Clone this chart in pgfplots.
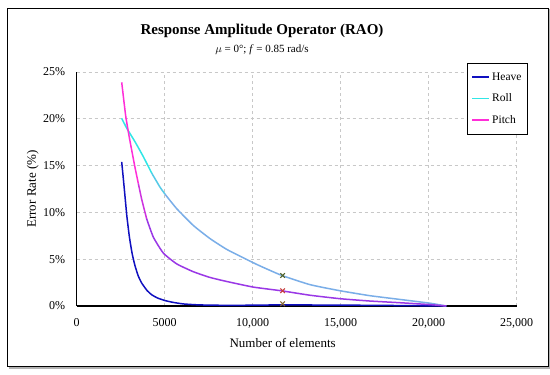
\documentclass[border=0pt]{standalone}
\usepackage{pgfplots}
\pgfplotsset{compat=1.18}
\usepackage{fontspec}
\setmainfont{Liberation Serif}
\definecolor{heave}{HTML}{1010C0}
\definecolor{rollA}{HTML}{30E6E6}
\definecolor{rollB}{HTML}{7AAEE8}
\definecolor{pitchA}{HTML}{FF2ED8}
\definecolor{pitchB}{HTML}{9A38E6}
\definecolor{gridc}{HTML}{C8C8C8}
\begin{document}
\begin{tikzpicture}
\fill[white] (0pt,0pt) rectangle (550pt,375pt);
\fill[gray!60] (9pt,6pt) rectangle (550pt,366pt);
\draw[black, line width=1pt, fill=white] (7pt,8pt) rectangle (548pt,366pt);
\node[font=\bfseries\fontsize{15}{17}\selectfont] at (262pt,344pt) {Response Amplitude Operator (RAO)};
\node[font=\fontsize{11}{13}\selectfont] at (262pt,325pt) {$\mu$ = 0°; \textit{f} = 0.85 rad/s};
\begin{axis}[
  at={(76.7pt,69pt)}, anchor=origin,
  scale only axis, width=440pt, height=234pt,
  xmin=0, xmax=25000, ymin=0, ymax=25,
  axis lines*=left,
  axis line style={line width=1.2pt, -},
  grid=major, grid style={dashed, gridc, line width=0.6pt},
  scaled x ticks=false,
  xtick={0,5000,10000,15000,20000,25000},
  xticklabels={0,5000,{10,000},{15,000},{20,000},{25,000}},
  ytick={0,5,10,15,20,25},
  yticklabels={0\%,5\%,10\%,15\%,20\%,25\%},
  major tick length=0pt,
  tick label style={font=\fontsize{12}{14}\selectfont},
  yticklabel style={inner sep=0pt, xshift=-11.5pt},
  xticklabel style={inner sep=0pt, yshift=-12pt},
  xlabel={Number of elements},
  ylabel={Error Rate (\%)},
  label style={font=\fontsize{13}{15}\selectfont},
  xlabel style={at={(rel axis cs:0.468,0)}, anchor=center, yshift=-37pt},
  ylabel style={at={(rel axis cs:0,0.5)}, anchor=center, yshift=44pt},
  clip=false,
  legend style={at={(rel axis cs:0.887,1.038)}, anchor=north west, draw=black, line width=0.8pt,
    font=\fontsize{11.5}{13}\selectfont, row sep=8.3pt, inner xsep=4pt, inner ysep=7pt, cells={anchor=west}},
  legend image code/.code={\draw[#1, line width=1.8pt] (0pt,0pt) -- (17pt,0pt);},
  every axis plot/.append style={line width=1.5pt, smooth, tension=0.3},
]
\addplot[heave] coordinates {
 (2557,15.4) (2650,13.6) (2750,11.6) (2850,9.6) (3000,7.3) (3150,5.6) (3313,4.3) (3500,3.2) (3693,2.45) (4000,1.65) (4261,1.2) (4600,0.85) (5017,0.58) (5500,0.38) (6060,0.22) (6800,0.13) (7575,0.09) (9000,0.07) (11700,0.12) (14000,0.1) (17000,0.07) (21000,0)};
\addlegendentry{Heave}
\addplot[rollA] coordinates {
 (2557,20.05) (2841,19.0) (3313,17.55) (3786,15.95) (4261,14.2)};
\addlegendentry{Roll}
\addplot[rollA!50!rollB, forget plot] coordinates {
 (4261,14.2) (4733,12.7) (5017,11.95)};
\addplot[rollB, forget plot] coordinates {
 (5017,11.95) (5682,10.4) (6629,8.6) (7576,7.2) (8523,6.05) (9470,5.15) (10036,4.62) (10417,4.28) (11648,3.27) (13258,2.28) (14960,1.63) (16665,1.1) (18370,0.7) (20070,0.3) (21000,0)};
\addplot[pitchA] coordinates {
 (2557,23.9) (2700,21.6) (2800,20.1) (3000,17.9) (3313,14.8) (3500,13.1)};
\addlegendentry{Pitch}
\addplot[pitchA!50!pitchB, forget plot] coordinates {
 (3500,13.1) (3693,11.4) (3977,9.3)};
\addplot[pitchB, forget plot] coordinates {
 (3977,9.3) (4356,7.35) (4924,5.65) (5682,4.5) (6629,3.66) (7576,3.05) (8523,2.62) (10036,2.02) (11648,1.62) (13258,1.15) (14960,0.78) (16665,0.53) (18370,0.35) (20070,0.15) (21000,0)};
\addplot[only marks, mark=x, mark size=3.2pt, line width=1.1pt, color={rgb,255:red,80;green,98;blue,40}, forget plot] coordinates {(11700,3.25)};
\addplot[only marks, mark=x, mark size=3.2pt, line width=1.1pt, color={rgb,255:red,200;green,60;blue,60}, forget plot] coordinates {(11700,1.62)};
\addplot[only marks, mark=x, mark size=3.2pt, line width=1.1pt, color={rgb,255:red,130;green,100;blue,50}, forget plot] coordinates {(11700,0.25)};
\end{axis}
\end{tikzpicture}
\end{document}
